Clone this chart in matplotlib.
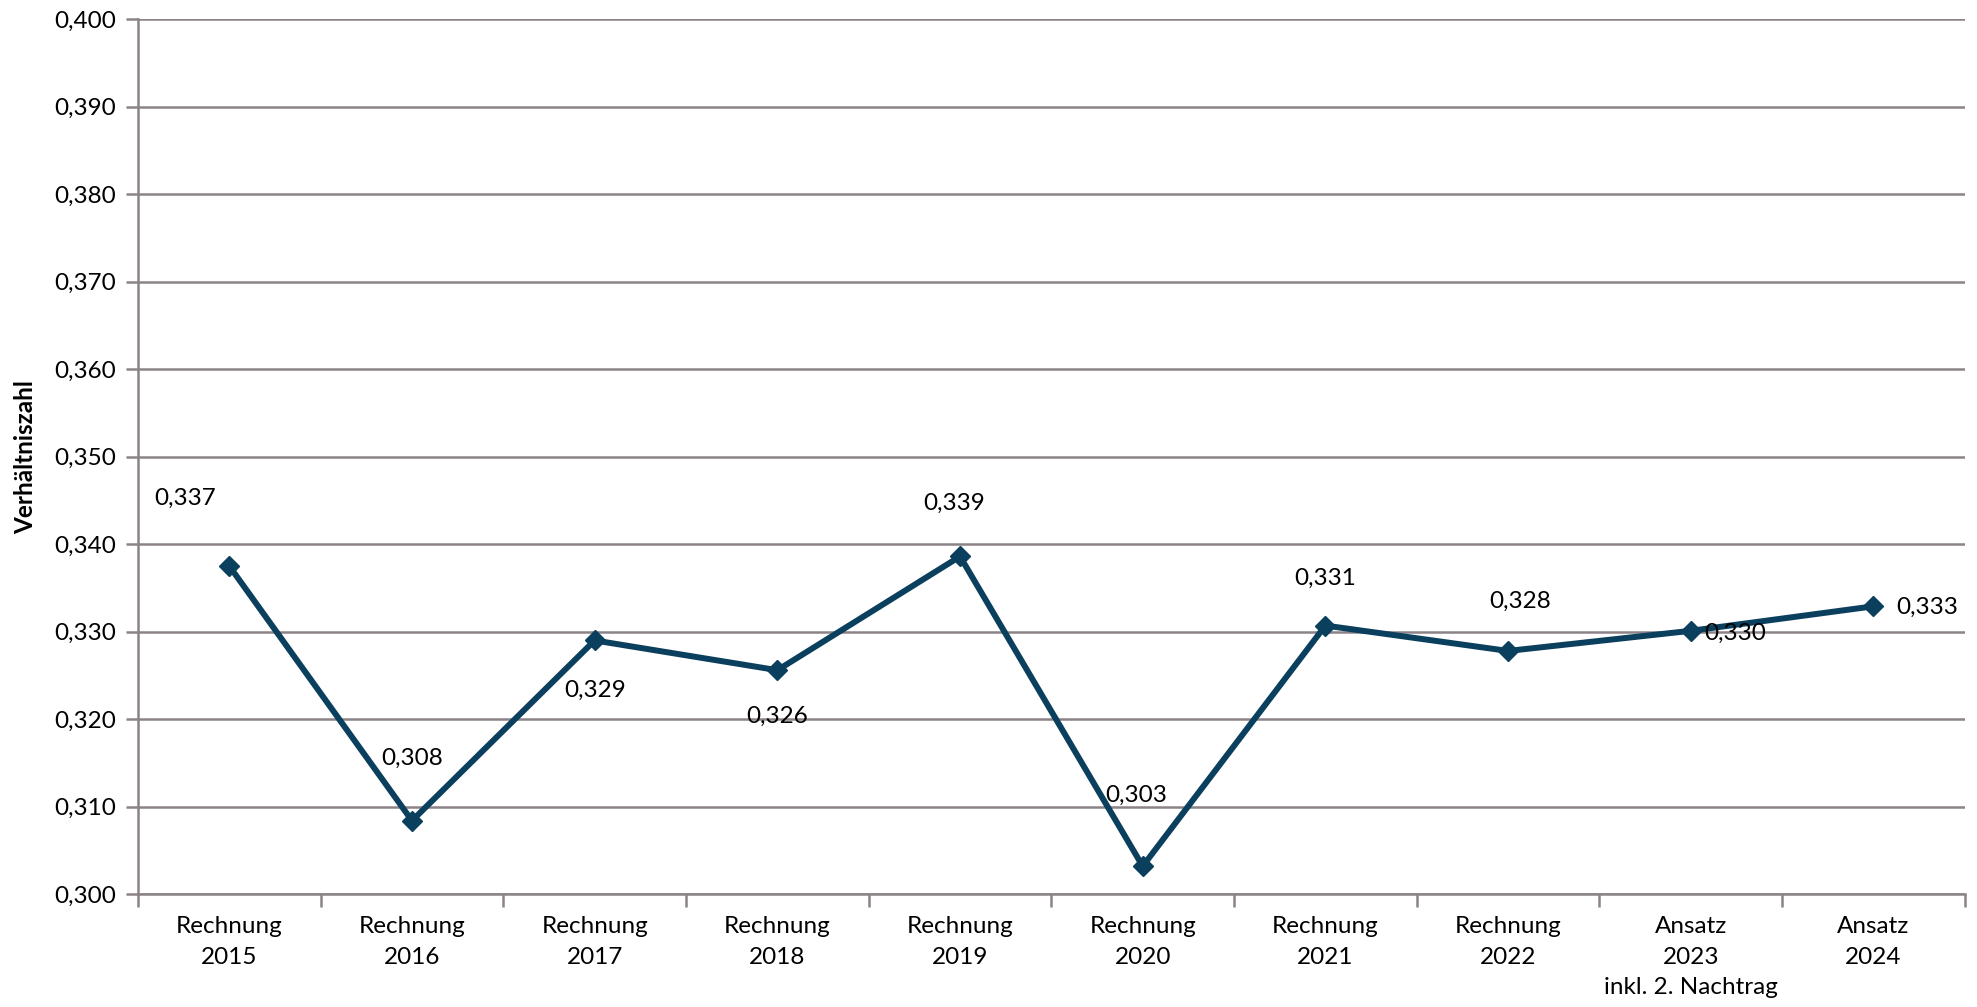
import numpy as np
import matplotlib.pyplot as plt
from matplotlib.ticker import FixedLocator, MultipleLocator, FuncFormatter

plt.rcParams['font.family'] = ['Lato', 'DejaVu Sans']

# data
categories = ["Rechnung\n2015", "Rechnung\n2016", "Rechnung\n2017", "Rechnung\n2018",
              "Rechnung\n2019", "Rechnung\n2020", "Rechnung\n2021", "Rechnung\n2022",
              "Ansatz\n2023\ninkl. 2. Nachtrag", "Ansatz\n2024"]
values = [0.3375, 0.3084, 0.3290, 0.3256, 0.3386, 0.3032, 0.3307, 0.3278, 0.3301, 0.3329]
labels = ["0,337", "0,308", "0,329", "0,326", "0,339", "0,303", "0,331", "0,328", "0,330", "0,333"]
# label offsets in points (dx, dy)
label_offsets = [(-32, 49), (0, 45), (0, -36), (0, -33), (-4, 38),
                 (-5, 51), (0, 34), (9, 36), (32, -2), (39, -1)]

line_color = "#0B3F5E"
grid_color = "#8C8388"
fs = 17.5

fig = plt.figure(figsize=(19.77, 10.07), dpi=100)
ax = fig.add_axes([0.0698, 0.112, 0.924, 0.869])

x = np.arange(len(values))
ax.plot(x, values, color=line_color, linewidth=4.3, marker='D', markersize=10.5,
        solid_joinstyle='miter', zorder=3)

for xi, v, lab, (dx, dy) in zip(x, values, labels, label_offsets):
    ax.annotate(lab, (xi, v), xytext=(dx, dy), textcoords='offset points',
                ha='center', va='center', fontsize=fs, color='black', zorder=4)

ax.set_xlim(-0.5, len(values) - 0.5)
ax.set_ylim(0.300, 0.400)
ax.yaxis.set_major_locator(MultipleLocator(0.01))
ax.yaxis.set_major_formatter(FuncFormatter(lambda v, p: f"{v:.3f}".replace('.', ',')))
ax.grid(axis='y', color=grid_color, linewidth=1.8, zorder=0)
ax.set_axisbelow(True)

ax.set_xticks(x)
ax.set_xticklabels(categories, fontsize=fs, linespacing=1.55)
ax.xaxis.set_minor_locator(FixedLocator(np.arange(-0.5, len(values), 1.0)))
ax.tick_params(axis='x', which='major', length=0, pad=16)
ax.tick_params(axis='x', which='minor', length=9, width=1.8, color=grid_color)
ax.tick_params(axis='y', length=9, width=1.8, color=grid_color, labelsize=fs, pad=7)

for side in ['top', 'right']:
    ax.spines[side].set_visible(False)
for side in ['left', 'bottom']:
    ax.spines[side].set_color(grid_color)
    ax.spines[side].set_linewidth(1.8)

ax.set_ylabel("Verhältniszahl", fontsize=fs, fontweight='bold', labelpad=12)

plt.savefig("out.png", dpi=100)
